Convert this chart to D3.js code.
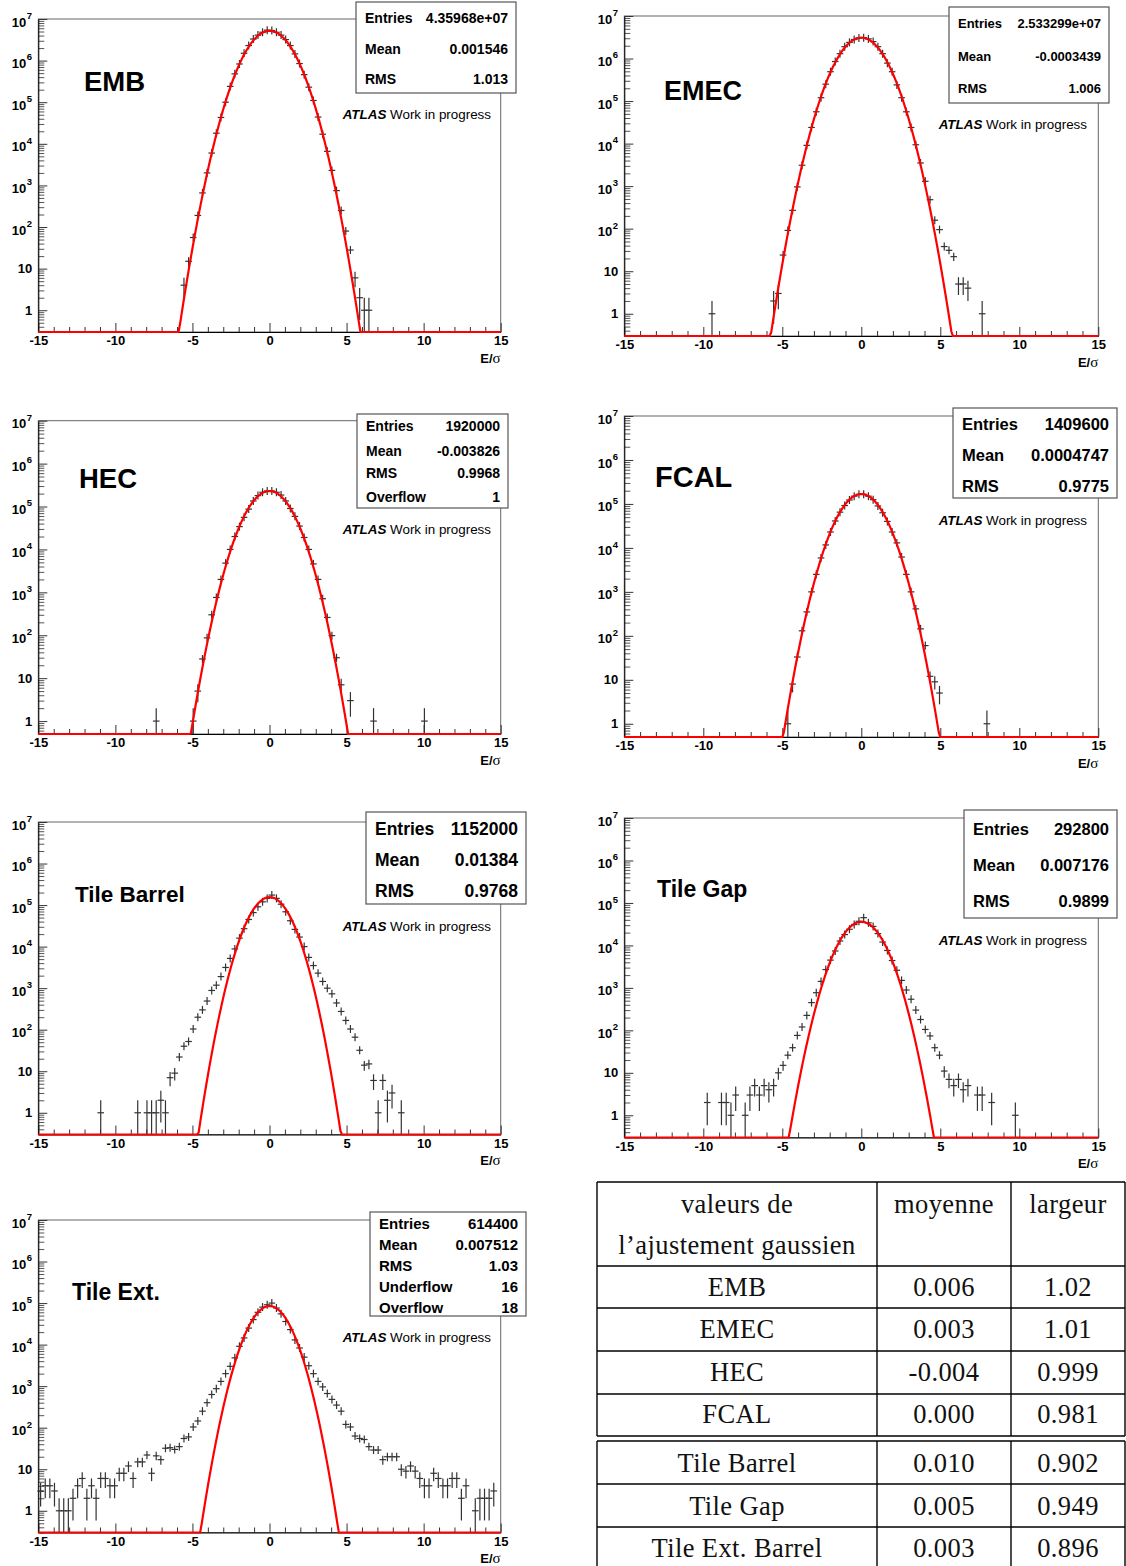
<!DOCTYPE html>
<html>
<head>
<meta charset="utf-8">
<script src="https://cdn.jsdelivr.net/npm/d3@7"></script>
<style>
body { margin: 0; background: #fff; }
svg { display: block; font-family: "Liberation Sans", Arial, sans-serif; }
</style>
</head>
<body>
<svg id="fig" width="1126" height="1566"></svg>
<script>
// histogram binning : 100 bins of 0.3 between -15 and 15
var xLow = -15, xHigh = 15, binWidth = 0.3;

// bin contents : index of first listed bin, then contents (0 = empty bin)
var embFirst = 31;
var embCounts = [4,15,56,190,660,2000,6000,18000,43000,100000,240000,480000,830000,1500000,2300000,3300000,
  4100000,4800000,5400000,5300000,4800000,4100000,3200000,2300000,1450000,850000,460000,230000,110000,44000,
  17000,6600,2300,750,250,80,28,6,2,1,1];

var emecFirst = 18;
var emecCounts = [1,0,0,0,0,0,0,0,0,0,0,0,0,2,3,24,91,270,960,3100,9100,24000,56000,120000,250000,490000,850000,
  1300000,1900000,2400000,2800000,3050000,3100000,2900000,2500000,1900000,1300000,780000,490000,240000,120000,
  56000,24000,9400,3500,1300,480,158,95,38,31,22,5,5,4,0,0,1];

var hecFirst = 25;
var hecCounts = [1,0,0,0,0,0,0,0,1,5,28,87,300,760,2000,4800,10000,20000,34000,56000,87000,135000,180000,215000,
  230000,230000,215000,185000,135000,90000,59000,35000,19000,10000,4600,2000,710,260,98,30,7,0,3,0,0,0,0,1,
  0,0,0,0,0,0,0,0,0,0,1];

var fcalFirst = 34;
var fcalCounts = [1,8,33,130,350,1000,2500,5900,11700,23000,41000,65000,92000,123000,150000,165000,165000,150000,
  125000,90000,63000,40000,23000,13000,6200,2500,1000,410,144,60,12,9,5,0,0,0,0,0,0,0,0,0,1];

var tileBarrelFirst = 13;
var tileBarrelCounts = [1,0,0,0,0,0,0,0,1,0,1,1,1,2,1,7,9,22,40,52,104,200,300,490,880,1180,1900,3150,5200,8800,
  16000,27000,45000,66000,91000,120000,145000,174000,145000,105000,69000,42000,26000,17000,10000,5500,3500,2300,
  1450,1000,730,440,275,167,104,66,32,14,15,6,1,6,2,3,0,1];

var tileGapFirst = 17;
var tileGapCounts = [2,0,0,2,2,1,3,0,1,3,5,3,5,4,5,10,15,26,39,76,120,225,450,770,1420,2700,4500,7400,12700,18000,
  24000,31000,37000,45000,34000,28000,19000,12000,7600,4400,2600,1500,890,540,300,180,105,74,39,26,11,7,5,7,4,5,
  0,3,3,0,2,0,0,0,0,1];

var tileExtFirst = 0;
var tileExtCounts = [3,4,4,3,1,1,1,2,4,6,2,4,2,6,6,4,4,8,8,12,6,15,15,22,8,21,17,32,33,30,35,55,60,104,145,250,400,
  630,870,1300,2000,3000,4800,9100,14500,25000,40000,60000,80000,91000,100000,76000,55000,36000,23000,13000,8300,
  5000,3100,2000,1300,960,665,480,350,250,120,104,63,55,52,35,29,29,17,20,20,20,10,9,12,9,6,4,4,8,6,4,4,6,6,2,4,
  0,1,2,2,2,3,0];

// gaussian fit results (table) and fitted peak height
var fitNames = ["EMB", "EMEC", "HEC", "FCAL", "Tile Barrel", "Tile Gap", "Tile Ext. Barrel"];
var fitMean = [0.006, 0.003, -0.004, 0.000, 0.010, 0.005, 0.003];
var fitWidth = [1.02, 1.01, 0.999, 0.981, 0.902, 0.949, 0.896];
var fitPeak = [5.2e6, 3.1e6, 2.3e5, 1.68e5, 1.55e5, 3.6e4, 8.5e4];

// stat boxes
var embStats = [["Entries", "4.35968e+07"], ["Mean", "0.001546"], ["RMS", "1.013"]];
var emecStats = [["Entries", "2.533299e+07"], ["Mean", "-0.0003439"], ["RMS", "1.006"]];
var hecStats = [["Entries", "1920000"], ["Mean", "-0.003826"], ["RMS", "0.9968"], ["Overflow", "1"]];
var fcalStats = [["Entries", "1409600"], ["Mean", "0.0004747"], ["RMS", "0.9775"]];
var tileBarrelStats = [["Entries", "1152000"], ["Mean", "0.01384"], ["RMS", "0.9768"]];
var tileGapStats = [["Entries", "292800"], ["Mean", "0.007176"], ["RMS", "0.9899"]];
var tileExtStats = [["Entries", "614400"], ["Mean", "0.007512"], ["RMS", "1.03"], ["Underflow", "16"], ["Overflow", "18"]];

var xMajor = [-15, -10, -5, 0, 5, 10, 15];

// pad layout
var panels = [
  {title: "EMB", fit: 0, first: embFirst, counts: embCounts, stats: embStats,
   x0: 38.3, x1: 500.7, y0: 19, y1: 332, ymin: 0.3, tx: 84, ty: 91, tsize: 27.5,
   box: [356, 2, 516, 93], statSize: 14, statRows: [18, 49, 79], atlas: [491, 114]},
  {title: "EMEC", fit: 1, first: emecFirst, counts: emecCounts, stats: emecStats,
   x0: 624.3, x1: 1098.3, y0: 16, y1: 336, ymin: 0.3, tx: 664, ty: 100, tsize: 27,
   box: [949, 7, 1109, 103], statSize: 13, statRows: [23, 56, 88], atlas: [1087, 124]},
  {title: "HEC", fit: 2, first: hecFirst, counts: hecCounts, stats: hecStats,
   x0: 38.3, x1: 500.7, y0: 420.7, y1: 734, ymin: 0.5, tx: 79, ty: 488, tsize: 27.5,
   box: [357, 414, 508, 508], statSize: 14, statRows: [426, 451, 473, 497], atlas: [491, 529]},
  {title: "FCAL", fit: 3, first: fcalFirst, counts: fcalCounts, stats: fcalStats,
   x0: 624.3, x1: 1098.3, y0: 416, y1: 737, ymin: 0.5, tx: 655, ty: 487, tsize: 29,
   box: [953, 408, 1117, 498], statSize: 16.5, statRows: [424, 455, 486], atlas: [1087, 520]},
  {title: "Tile Barrel", fit: 4, first: tileBarrelFirst, counts: tileBarrelCounts, stats: tileBarrelStats,
   x0: 38.3, x1: 500.7, y0: 822, y1: 1134.5, ymin: 0.3, tx: 75, ty: 902, tsize: 22.5,
   box: [366, 812, 526, 904], statSize: 17.5, statRows: [829, 860, 891], atlas: [491, 926]},
  {title: "Tile Gap", fit: 5, first: tileGapFirst, counts: tileGapCounts, stats: tileGapStats,
   x0: 624.3, x1: 1098.3, y0: 818, y1: 1137.5, ymin: 0.3, tx: 657, ty: 897, tsize: 23,
   box: [964, 810, 1117, 918], statSize: 16.5, statRows: [829, 865, 901], atlas: [1087, 940]},
  {title: "Tile Ext.", fit: 6, first: tileExtFirst, counts: tileExtCounts, stats: tileExtStats,
   x0: 38.3, x1: 500.7, y0: 1220, y1: 1532.5, ymin: 0.3, tx: 72, ty: 1300, tsize: 23,
   box: [370, 1212, 526, 1316], statSize: 15, statRows: [1224, 1245, 1266, 1287, 1308], atlas: [491, 1337]}
];

var svg = d3.select("#fig");

function drawPanel(p) {
  var g = svg.append("g");
  var x = d3.scaleLinear().domain([xLow, xHigh]).range([p.x0, p.x1]);
  var y = d3.scaleLog().domain([p.ymin, 1e7]).range([p.y1, p.y0]).clamp(true);

  // frame
  g.append("rect")
    .attr("x", p.x0).attr("y", p.y0)
    .attr("width", p.x1 - p.x0).attr("height", p.y1 - p.y0)
    .attr("fill", "none").attr("stroke", "#666").attr("stroke-width", 1);

  // x axis, ticks pointing up
  var xMinor = d3.range(xLow, xHigh + 1, 1).filter(d => d % 5 !== 0);
  g.append("g").attr("transform", `translate(0,${p.y1})`)
    .call(d3.axisBottom(x).tickValues(xMinor).tickSize(-5).tickSizeOuter(0).tickFormat(""))
    .call(s => s.select(".domain").remove())
    .selectAll("line").attr("stroke", "#333");
  var xAxis = g.append("g").attr("transform", `translate(0,${p.y1})`)
    .call(d3.axisBottom(x).tickValues(xMajor).tickSize(-9).tickSizeOuter(0).tickPadding(4).tickFormat(d => String(d)));
  xAxis.selectAll("line").attr("stroke", "#333");
  xAxis.select(".domain").attr("stroke", "#000");
  xAxis.selectAll("text").attr("font-size", 13).attr("font-weight", "bold")
    .attr("font-family", "Liberation Sans, Arial, sans-serif").attr("fill", "#000");

  g.append("text").attr("x", p.x1).attr("y", p.y1 + 26).attr("dy", "0.35em")
    .attr("text-anchor", "end").attr("font-size", 13).attr("font-weight", "bold")
    .text("E/").append("tspan").attr("font-family", "Liberation Serif, serif")
    .attr("font-weight", "normal").attr("font-size", 15).text("σ");

  // log y axis, ticks pointing right
  var decades = [], minors = [];
  for (var k = Math.floor(Math.log10(p.ymin)); k <= 7; k++) {
    var v = Math.pow(10, k);
    if (v >= p.ymin && v <= 1e7) decades.push(v);
    for (var m = 2; m <= 9; m++) {
      var mv = m * v;
      if (mv >= p.ymin - 1e-9 && mv < 1e7) minors.push(mv);
    }
  }
  g.append("g").attr("transform", `translate(${p.x0},0)`)
    .call(d3.axisLeft(y).tickValues(minors).tickSize(-6).tickSizeOuter(0).tickFormat(""))
    .call(s => s.select(".domain").remove())
    .selectAll("line").attr("stroke", "#555");
  var yAxis = g.append("g").attr("transform", `translate(${p.x0},0)`)
    .call(d3.axisLeft(y).tickValues(decades).tickSize(-9).tickSizeOuter(0).tickFormat(""));
  yAxis.selectAll("line").attr("stroke", "#333");
  yAxis.select(".domain").attr("stroke", "#000");

  decades.forEach(function(d) {
    var e = Math.round(Math.log10(d)), yy = y(d);
    if (e <= 1) {
      g.append("text").attr("x", p.x0 - 6).attr("y", yy).attr("dy", "0.35em")
        .attr("text-anchor", "end").attr("font-size", 13).attr("font-weight", "bold")
        .text(e === 0 ? "1" : "10");
    } else {
      g.append("text").attr("x", p.x0 - 12).attr("y", yy + 3).attr("dy", "0.35em")
        .attr("text-anchor", "end").attr("font-size", 13).attr("font-weight", "bold").text("10");
      g.append("text").attr("x", p.x0 - 11.5).attr("y", yy - 3.5).attr("dy", "0.35em")
        .attr("font-size", 9.5).attr("font-weight", "bold").text(e);
    }
  });

  // data points with error bars
  var pts = [];
  p.counts.forEach(function(n, j) {
    if (n > 0) {
      var i = p.first + j;
      pts.push({c: xLow + (i + 0.5) * binWidth, n: n});
    }
  });
  var halfW = Math.max(x(binWidth / 2) - x(0), 3.3);
  var marks = g.append("g").attr("stroke", "#333").attr("stroke-width", 1.2);
  marks.selectAll(".hbar").data(pts).enter().append("line")
    .attr("x1", d => x(d.c) - halfW).attr("x2", d => x(d.c) + halfW)
    .attr("y1", d => y(d.n)).attr("y2", d => y(d.n));
  marks.selectAll(".vbar").data(pts).enter().append("line")
    .attr("x1", d => x(d.c)).attr("x2", d => x(d.c))
    .attr("y1", d => Math.min(y(d.n + Math.sqrt(d.n)), y(d.n) - 4))
    .attr("y2", function(d) {
      var lo = d.n - Math.sqrt(d.n);
      var yl = lo > 0 ? y(lo) : p.y1;
      return Math.max(yl, y(d.n) + 4);
    });

  // gaussian fit
  var A = fitPeak[p.fit], mu = fitMean[p.fit], sg = fitWidth[p.fit];
  var xs = d3.range(0, 301).map(k => xLow + k * 0.1);
  var line = d3.line()
    .x(d => x(d))
    .y(d => y(Math.max(A * Math.exp(-0.5 * Math.pow((d - mu) / sg, 2)), p.ymin)));
  g.append("path").datum(xs).attr("d", line)
    .attr("fill", "none").attr("stroke", "#ff0000").attr("stroke-width", 2.2);

  // title
  g.append("text").attr("x", p.tx).attr("y", p.ty)
    .attr("font-size", p.tsize).attr("font-weight", "bold").text(p.title);

  // ATLAS label
  var at = g.append("text").attr("x", p.atlas[0]).attr("y", p.atlas[1]).attr("dy", "0.35em")
    .attr("text-anchor", "end").attr("font-size", 13.4);
  at.append("tspan").attr("font-weight", "bold").attr("font-style", "italic").text("ATLAS");
  at.append("tspan").text(" Work in progress");

  // stat box
  var b = p.box;
  g.append("rect").attr("x", b[0]).attr("y", b[1]).attr("width", b[2] - b[0]).attr("height", b[3] - b[1])
    .attr("fill", "#fff").attr("stroke", "#555").attr("stroke-width", 1.2);
  p.stats.forEach(function(r, k) {
    g.append("text").attr("x", b[0] + 9).attr("y", p.statRows[k]).attr("dy", "0.35em")
      .attr("font-size", p.statSize).attr("font-weight", "bold").text(r[0]);
    g.append("text").attr("x", b[2] - 8).attr("y", p.statRows[k]).attr("dy", "0.35em")
      .attr("text-anchor", "end").attr("font-size", p.statSize).attr("font-weight", "bold").text(r[1]);
  });
}

panels.forEach(drawPanel);

// table of gaussian fit values
var tbl = svg.append("g").attr("font-family", "Liberation Serif, 'DejaVu Serif', serif")
  .attr("font-size", 26.5).attr("letter-spacing", "0.4px");
var tLeft = 597, tRight = 1125, tCols = [877, 1011];
var tLines1 = [1182, 1266, 1308, 1351, 1394, 1436];
var tLines2 = [1441, 1484, 1527];
var rowY = [1287, 1329, 1372, 1414, 1463, 1506, 1548];
var colC = [737, 944, 1068];

tLines1.concat(tLines2).forEach(function(yy) {
  tbl.append("line").attr("x1", tLeft).attr("x2", tRight).attr("y1", yy).attr("y2", yy)
    .attr("stroke", "#000").attr("stroke-width", 1.4);
});
[tLeft].concat(tCols, [tRight]).forEach(function(xx) {
  tbl.append("line").attr("x1", xx).attr("x2", xx).attr("y1", 1182).attr("y2", 1436)
    .attr("stroke", "#000").attr("stroke-width", 1.4);
  tbl.append("line").attr("x1", xx).attr("x2", xx).attr("y1", 1441).attr("y2", 1566)
    .attr("stroke", "#000").attr("stroke-width", 1.4);
});

function cell(txt, cx, cy) {
  tbl.append("text").attr("x", cx).attr("y", cy).attr("dy", "0.33em")
    .attr("text-anchor", "middle").attr("fill", "#111").text(txt);
}
cell("valeurs de", colC[0], 1204);
cell("l’ajustement gaussien", colC[0], 1245);
cell("moyenne", colC[1], 1204);
cell("largeur", colC[2], 1204);

var fmtMean = v => (v < 0 ? "-" : "") + Math.abs(v).toFixed(3);
var fmtWidth = v => String(+v.toPrecision(3));
fitNames.forEach(function(nm, k) {
  cell(nm, colC[0], rowY[k]);
  cell(fmtMean(fitMean[k]), colC[1], rowY[k]);
  cell(fmtWidth(fitWidth[k]), colC[2], rowY[k]);
});
</script>
</body>
</html>
